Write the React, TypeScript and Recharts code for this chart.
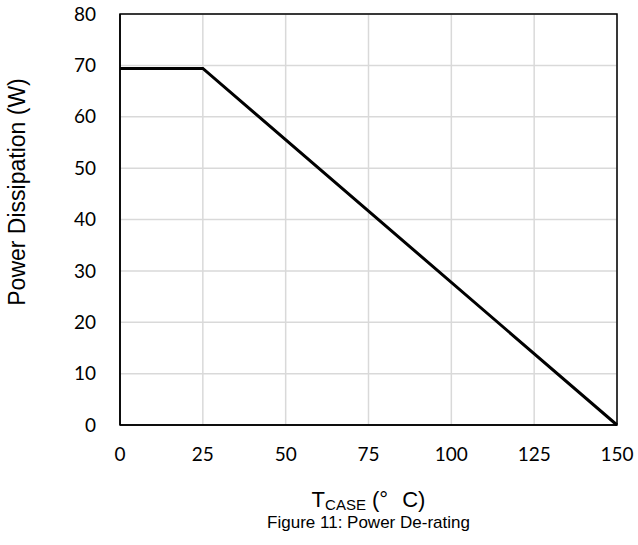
import {
  LineChart,
  Line,
  XAxis,
  YAxis,
  CartesianGrid,
  ReferenceArea,
  Label,
} from "recharts";

const caseTemps = [0, 25, 150];
const powerWatts = [69.4, 69.4, 0];
const xTicks = [0, 25, 50, 75, 100, 125, 150];
const yTicks = [0, 10, 20, 30, 40, 50, 60, 70, 80];

const data = caseTemps.map((t, i) => ({ t, p: powerWatts[i] }));

const font = "'Liberation Sans', Arial, sans-serif";
const tickFont = "Lato, 'Open Sans', sans-serif";

function XTitle(props: any) {
  const vb = props.viewBox || {};
  const cx = vb.x + vb.width / 2;
  const top = vb.y;
  return (
    <g>
      <text x={cx} y={top + 82} textAnchor="middle" fontFamily={font} fontSize={22} fill="#000">
        <tspan>T</tspan>
        <tspan fontSize={15} dy={3}>CASE</tspan>
        <tspan dy={-3}> (°</tspan>
        <tspan dx={14}>C)</tspan>
      </text>
      <text x={cx} y={top + 103} textAnchor="middle" fontFamily={font} fontSize={17} fill="#000">
        Figure 11: Power De-rating
      </text>
    </g>
  );
}

function YTitle() {
  return (
    <text
      x={25}
      y={192}
      transform="rotate(-90, 25, 192)"
      textAnchor="middle"
      fontFamily={font}
      fontSize={23}
      fill="#000"
    >
      Power Dissipation (W)
    </text>
  );
}

export default function App() {
  return (
    <div style={{ position: "absolute", left: 0, top: 0 }}>
      <LineChart
        width={638}
        height={545}
        data={data}
        margin={{ top: 14, right: 21, bottom: 90, left: 60 }}
      >
        <CartesianGrid stroke="#d9d9d9" strokeWidth={1.5} />
        <XAxis
          dataKey="t"
          type="number"
          domain={[0, 150]}
          ticks={xTicks}
          height={30}
          tickSize={0}
          tickMargin={23}
          axisLine={{ stroke: "#000", strokeWidth: 1.5 }}
          tick={{ fill: "#000", fontSize: 19, fontFamily: tickFont }}
        >
          <Label content={<XTitle />} />
        </XAxis>
        <YAxis
          type="number"
          domain={[0, 80]}
          ticks={yTicks}
          width={60}
          tickSize={0}
          tickMargin={24}
          axisLine={{ stroke: "#000", strokeWidth: 1.5 }}
          tick={{ fill: "#000", fontSize: 19, fontFamily: tickFont }}
        >
          <Label content={<YTitle />} />
        </YAxis>
        <ReferenceArea
          x1={0}
          x2={150}
          y1={0}
          y2={80}
          fill="none"
          stroke="#000"
          strokeWidth={1.5}
          ifOverflow="visible"
        />
        <Line
          type="linear"
          dataKey="p"
          stroke="#000"
          strokeWidth={3}
          dot={false}
          isAnimationActive={false}
        />
      </LineChart>
    </div>
  );
}
